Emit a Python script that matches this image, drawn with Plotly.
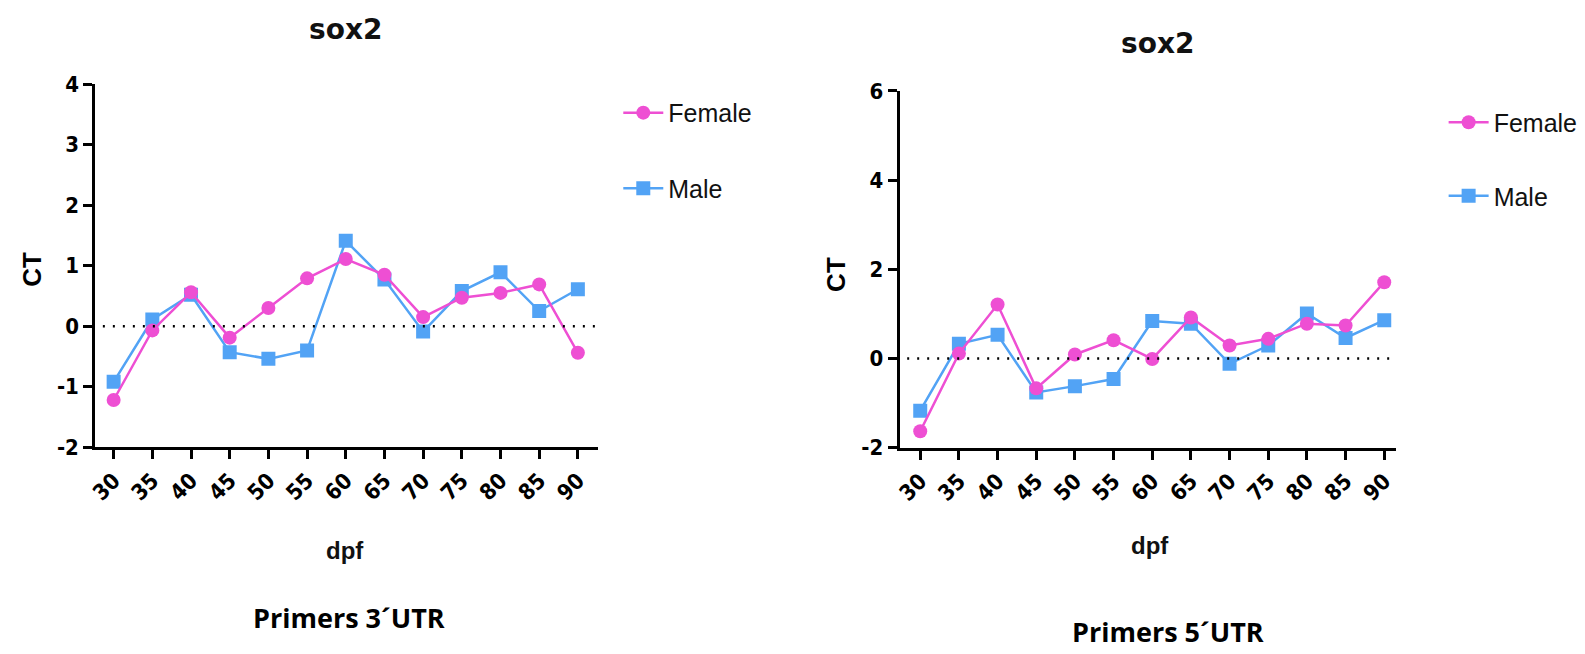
import plotly.graph_objects as go

W, H = 1585, 654

# ---------------- data ----------------
dpf = [30, 35, 40, 45, 50, 55, 60, 65, 70, 75, 80, 85, 90]
dpf_labels = ["30", "35", "40", "45", "50", "55", "60", "65", "70", "75", "80", "85", "90"]

female_3utr = [-1.22, -0.07, 0.56, -0.19, 0.30, 0.79, 1.11, 0.85, 0.15, 0.47, 0.55, 0.69, -0.44]
male_3utr = [-0.92, 0.11, 0.52, -0.43, -0.54, -0.40, 1.41, 0.77, -0.09, 0.58, 0.89, 0.25, 0.61]

female_5utr = [-1.63, 0.11, 1.21, -0.67, 0.09, 0.41, -0.01, 0.92, 0.29, 0.44, 0.78, 0.74, 1.71]
male_5utr = [-1.17, 0.33, 0.53, -0.76, -0.62, -0.46, 0.84, 0.78, -0.12, 0.29, 1.01, 0.46, 0.86]

yticks_left = [-2, -1, 0, 1, 2, 3, 4]
yticklabels_left = ["-2", "-1", "0", "1", "2", "3", "4"]
yticks_right = [-2, 0, 2, 4, 6]
yticklabels_right = ["-2", "0", "2", "4", "6"]

PINK = "#EE4FD3"
BLUE = "#52A3F5"


def px(x):
    return x / W


def py(y):
    return 1 - y / H


fig = go.Figure()

panels = [
    ("x", "y", "legend", male_3utr, female_3utr),
    ("x2", "y2", "legend2", male_5utr, female_5utr),
]
for xa, ya, lg, male, female in panels:
    fig.add_trace(go.Scatter(
        x=dpf, y=male, name="Male", mode="lines+markers",
        xaxis=xa, yaxis=ya, legend=lg, legendgroup="m" + xa, legendrank=2,
        line=dict(color=BLUE, width=2.5),
        marker=dict(symbol="square", size=14, color=BLUE),
    ))
    fig.add_trace(go.Scatter(
        x=dpf, y=female, name="Female", mode="lines+markers",
        xaxis=xa, yaxis=ya, legend=lg, legendgroup="f" + xa, legendrank=1,
        line=dict(color=PINK, width=2.5),
        marker=dict(symbol="circle", size=14, color=PINK),
    ))

tickfont = dict(family="Liberation Sans Narrow, DejaVu Sans Condensed, Liberation Sans, Arial",
                size=22, color="black", weight="bold")
axis_common = dict(showline=True, linewidth=3, linecolor="black", ticks="outside",
                   ticklen=9, tickwidth=3, tickcolor="black", showgrid=False,
                   zeroline=False, tickfont=tickfont, fixedrange=True)

legend_font = dict(family="Liberation Sans, Arial", size=25, color="#111")

fig.update_layout(
    width=W, height=H,
    margin=dict(l=0, r=0, t=0, b=0),
    paper_bgcolor="white", plot_bgcolor="white",
    xaxis=dict(domain=[px(88.7), px(594)], range=[27.63, 92.65], anchor="y",
               tickvals=dpf, ticktext=dpf_labels, tickangle=-45, **axis_common),
    yaxis=dict(domain=[py(452.5), py(75)], range=[-2, 4], anchor="x",
               tickvals=yticks_left, ticktext=yticklabels_left, **axis_common),
    xaxis2=dict(domain=[px(896.7), px(1395)], range=[27.35, 91.5], anchor="y2",
                tickvals=dpf, ticktext=dpf_labels, tickangle=-45, **axis_common),
    yaxis2=dict(domain=[py(453), py(82)], range=[-2, 6], anchor="x2",
                tickvals=yticks_right, ticktext=yticklabels_right, **axis_common),
    legend=dict(x=px(614), y=py(81), xanchor="left", yanchor="top",
                font=legend_font, tracegroupgap=40, bgcolor="rgba(0,0,0,0)", itemwidth=40),
    legend2=dict(x=px(1443), y=py(91), xanchor="left", yanchor="top",
                 font=legend_font, tracegroupgap=38, bgcolor="rgba(0,0,0,0)", itemwidth=40),
)

# dotted zero lines
for xa, ya in [("x", "y"), ("x2", "y2")]:
    fig.add_shape(type="line", xref=f"{xa} domain", yref=ya, x0=0.015, x1=1, y0=0, y1=0,
                  line=dict(color="black", width=2.5, dash="2px,8px"))

title_font = dict(family="DejaVu Sans, Verdana", size=28, color="#111", weight="bold")
label_font = dict(family="Liberation Sans, Arial", size=26, color="black", weight="bold")
dpf_font = dict(family="Liberation Sans, Arial", size=24, color="#111", weight="bold")
primer_font = dict(family="Open Sans, Liberation Sans", size=27, color="black", weight="bold")

annos = [
    ("sox2", 340, 18, title_font, 0),
    ("sox2", 1156, 33, title_font, 0),
    ("CT", 25, 267, label_font, -90),
    ("CT", 832, 273, label_font, -90),
    ("dpf", 340, 560, dpf_font, 0),
    ("dpf", 1148, 555, dpf_font, 0),
    ("Primers 3´UTR", 344, 630, primer_font, 0),
    ("Primers 5´UTR", 1166, 644, primer_font, 0),
]
for text, x, y, font, ang in annos:
    fig.add_annotation(text=text, x=px(x), y=py(y), xref="paper", yref="paper",
                       showarrow=False, xanchor="center", yanchor="middle",
                       font=font, textangle=ang)

fig.write_html(
    "out.html",
    config={"displayModeBar": False},
    post_script="document.body.style.margin='0px';document.body.style.overflow='hidden';",
)
